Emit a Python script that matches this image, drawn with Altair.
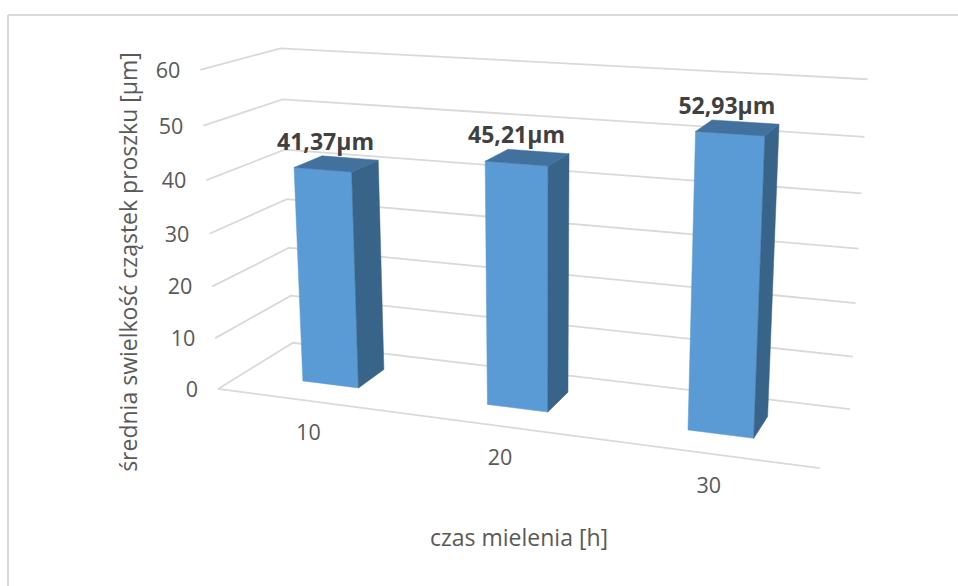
import altair as alt
import numpy as np
import pandas as pd

# Chart content
hours = ["10", "20", "30"]
mean_size = [41.37, 45.21, 52.93]
value_ticks = [0, 10, 20, 30, 40, 50, 60]
x_title = "czas mielenia [h]"
y_title = "średnia swielkość cząstek proszku [µm]"

# Camera of the 3D box: (category, value, depth) anchors -> screen position
BOX = [
    ((0, 60, 0), (200.0, 70.0)), ((0, 50, 0), (203.3, 125.7)), ((0, 0, 0), (218.3, 389.0)),
    ((0, 60, 1), (280.7, 48.3)), ((0, 50, 1), (282.7, 99.3)), ((0, 0, 1), (292.7, 342.7)),
    ((3, 60, 1), (867.7, 79.3)), ((3, 50, 1), (864.3, 136.7)), ((3, 0, 1), (850.0, 409.3)),
    ((3, 0, 0), (820.0, 468.0)),
]


def fit_camera(pairs):
    rows, rhs = [], []
    for (a, b, c), (sx, sy) in pairs:
        rows.append([a, b, c, 1, 0, 0, 0, 0, -sx * a, -sx * b, -sx * c])
        rows.append([0, 0, 0, 0, a, b, c, 1, -sy * a, -sy * b, -sy * c])
        rhs += [sx, sy]
    p = np.linalg.lstsq(np.array(rows, float), np.array(rhs, float), rcond=None)[0]
    return np.append(p, 1.0).reshape(3, 4)


CAM = fit_camera(BOX)


def project(a, v, d):
    sx, sy, w = CAM @ np.array([a, v, d, 1.0])
    return float(sx / w), float(sy / w)


BAR_W, BAR_SHIFT, D0, D1 = 0.31, -0.005, 0.32, 0.70
SCALE_X = alt.Scale(domain=[0, 958], range=[0, 958], nice=False, zero=False)
SCALE_Y = alt.Scale(domain=[0, 586], range=[0, 586], nice=False, zero=False)
GRID = "#d9d9d9"
TEXT = "#595959"
FONT = "Open Sans"


def xy(**extra):
    return dict(
        x=alt.X("sx:Q", scale=SCALE_X, axis=None),
        y=alt.Y("sy:Q", scale=SCALE_Y, axis=None),
        **extra,
    )


# Gridlines on the left and back walls, plus the front edge of the floor
grid_rows = []
for v in value_ticks:
    for k, (a, d) in enumerate([(0, 0), (0, 1), (3, 1)]):
        sx, sy = project(a, v, d)
        grid_rows.append({"line": f"v{v}", "k": k, "sx": sx, "sy": sy})
for k, a in enumerate([0, 3]):
    sx, sy = project(a, 0, 0)
    grid_rows.append({"line": "front", "k": k, "sx": sx, "sy": sy})
grid = alt.Chart(pd.DataFrame(grid_rows)).mark_line(stroke=GRID, strokeWidth=1.8).encode(
    **xy(detail="line:N", order="k:Q")
)

# Bar faces as closed polygons
faces = {"front": [], "side": [], "top": []}
for i, value in enumerate(mean_size):
    a0, a1 = i + 0.5 + BAR_SHIFT - BAR_W / 2, i + 0.5 + BAR_SHIFT + BAR_W / 2
    corners = {
        "front": [(a0, 0, D0), (a1, 0, D0), (a1, value, D0), (a0, value, D0)],
        "side": [(a1, 0, D0), (a1, 0, D1), (a1, value, D1), (a1, value, D0)],
        "top": [(a0, value, D0), (a1, value, D0), (a1, value, D1), (a0, value, D1)],
    }
    for name, pts in corners.items():
        for k, pt in enumerate(pts + pts[:1]):
            sx, sy = project(*pt)
            faces[name].append({"bar": hours[i], "k": k, "sx": sx, "sy": sy})

colours = {"front": "#5b9bd5", "side": "#38648a", "top": "#41719c"}
face_layers = [
    alt.Chart(pd.DataFrame(rows))
    .mark_line(fill=colours[name], stroke=colours[name], strokeWidth=0.5)
    .encode(**xy(detail="bar:N", order="k:Q"))
    for name, rows in faces.items()
]

# Value labels above each bar
label_rows = []
for i, value in enumerate(mean_size):
    sx, sy = project(i + 0.5, value, (D0 + D1) / 2)
    label_rows.append({"sx": sx, "sy": sy, "t": f"{value:.2f}".replace(".", ",") + "µm"})
labels = alt.Chart(pd.DataFrame(label_rows)).mark_text(
    font=FONT, fontSize=23, fontWeight="bold", color="#404040", baseline="middle", dx=-12, dy=-21
).encode(**xy(text="t:N"))

# Tick labels along the value axis and the category axis
y_rows = []
for v in value_ticks:
    sx, sy = project(0, v, 0)
    y_rows.append({"sx": sx, "sy": sy, "t": str(v)})
y_ticks = alt.Chart(pd.DataFrame(y_rows)).mark_text(
    font=FONT, fontSize=21.5, color=TEXT, align="right", baseline="middle", dx=-20, dy=2
).encode(**xy(text="t:N"))

x_rows = []
for i, h in enumerate(hours):
    sx, sy = project(i + 0.5, 0, 0)
    x_rows.append({"sx": sx, "sy": sy, "t": h})
x_ticks = alt.Chart(pd.DataFrame(x_rows)).mark_text(
    font=FONT, fontSize=21.5, color=TEXT, baseline="middle", dx=0.5, dy=33
).encode(**xy(text="t:N"))

# Axis titles
x_label = alt.Chart(pd.DataFrame({"t": [x_title]})).mark_text(
    font=FONT, fontSize=23, color=TEXT, baseline="middle"
).encode(x=alt.value(519), y=alt.value(539), text="t:N")
y_label = alt.Chart(pd.DataFrame({"t": [y_title]})).mark_text(
    font=FONT, fontSize=23, color=TEXT, angle=270, baseline="middle"
).encode(x=alt.value(130), y=alt.value(262), text="t:N")

# Outer frame: top and left edges only
frame_top = alt.Chart(pd.DataFrame({"a": [0]})).mark_rule(stroke=GRID, strokeWidth=2).encode(
    x=alt.value(8), x2=alt.value(958), y=alt.value(15)
)
frame_left = alt.Chart(pd.DataFrame({"a": [0]})).mark_rule(stroke=GRID, strokeWidth=2).encode(
    x=alt.value(8), y=alt.value(15), y2=alt.value(586)
)

chart = (
    alt.layer(frame_top, frame_left, grid, *face_layers, labels, y_ticks, x_ticks, x_label, y_label)
    .properties(width=958, height=586, padding=0, autosize=alt.AutoSizeParams(type="none"), background="white")
    .configure_view(stroke=None)
)

chart.save("out.html", embed_options={"renderer": "svg", "actions": False})
